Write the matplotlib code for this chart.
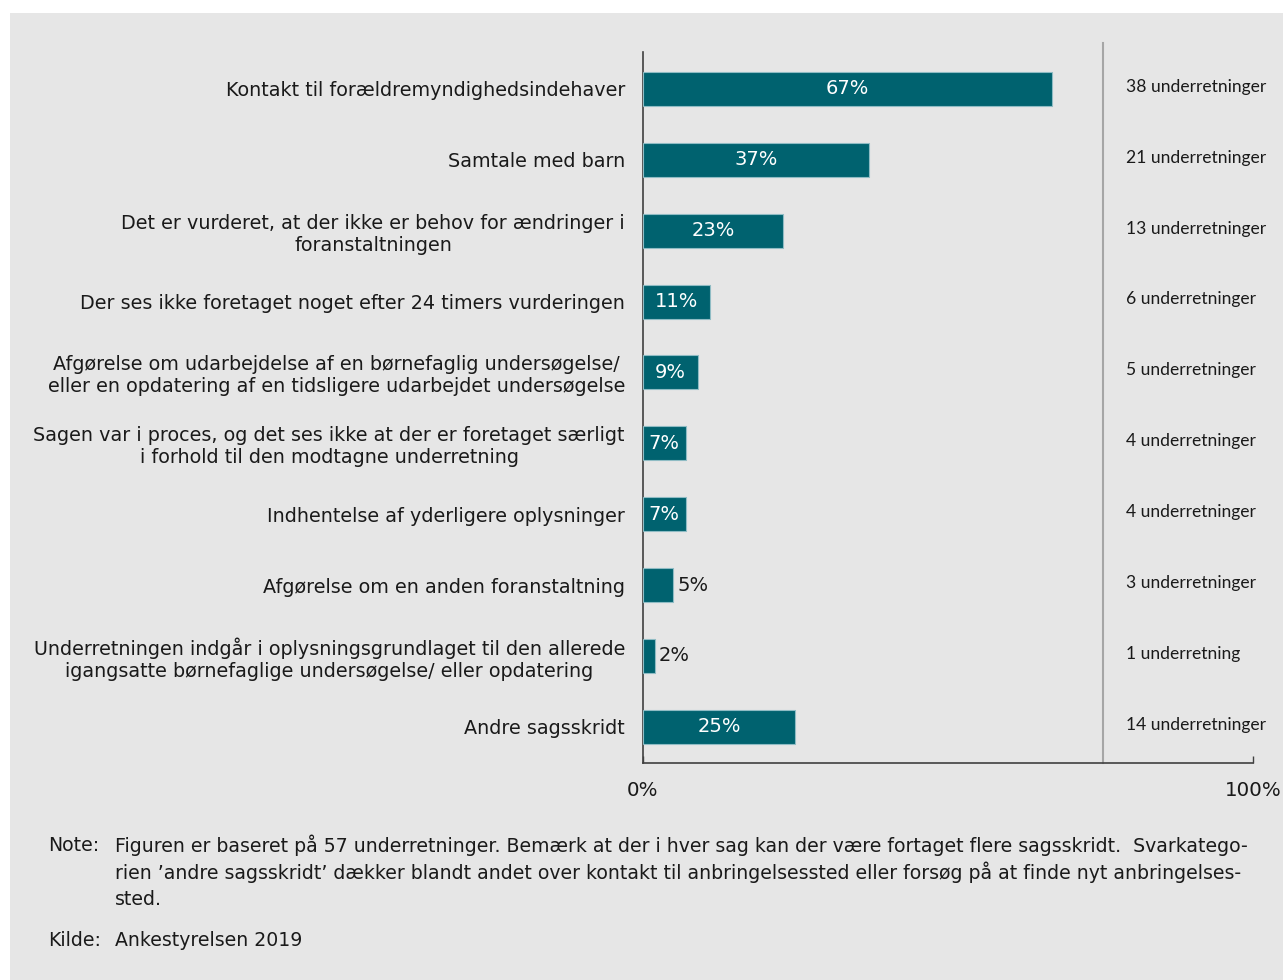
import matplotlib
matplotlib.use("Agg")
import matplotlib.pyplot as plt

categories = [
    "Kontakt til forældremyndighedsindehaver",
    "Samtale med barn",
    "Det er vurderet, at der ikke er behov for ændringer i\nforanstaltningen",
    "Der ses ikke foretaget noget efter 24 timers vurderingen",
    "Afgørelse om udarbejdelse af en børnefaglig undersøgelse/\neller en opdatering af en tidsligere udarbejdet undersøgelse",
    "Sagen var i proces, og det ses ikke at der er foretaget særligt\ni forhold til den modtagne underretning",
    "Indhentelse af yderligere oplysninger",
    "Afgørelse om en anden foranstaltning",
    "Underretningen indgår i oplysningsgrundlaget til den allerede\nigangsatte børnefaglige undersøgelse/ eller opdatering",
    "Andre sagsskridt",
]
percent = [67, 37, 23, 11, 9, 7, 7, 5, 2, 25]
count_labels = [
    "38 underretninger", "21 underretninger", "13 underretninger",
    "6 underretninger", "5 underretninger", "4 underretninger",
    "4 underretninger", "3 underretninger", "1 underretning",
    "14 underretninger",
]
xtick_values = [0, 100]
xtick_labels = ["0%", "100%"]
note_lines = [
    "Figuren er baseret på 57 underretninger. Bemærk at der i hver sag kan der være fortaget flere sagsskridt.  Svarkatego-",
    "rien ’andre sagsskridt’ dækker blandt andet over kontakt til anbringelsessted eller forsøg på at finde nyt anbringelses-",
    "sted.",
]
source_text = "Ankestyrelsen 2019"

BG = "#e6e6e6"
BAR = "#00626f"
TXT = "#1a1a1a"

W, H = 1283, 980
fig = plt.figure(figsize=(W / 100, H / 100), dpi=100, facecolor="white")
# grey panel
panel = plt.Rectangle((10 / W, 0), 1 - 10 / W, 1 - 13 / H,
                      transform=fig.transFigure, facecolor=BG,
                      edgecolor="none", zorder=-10)
fig.add_artist(panel)

left, right, top, bottom = 643, 1253, 52, 763
ax = fig.add_axes([left / W, 1 - bottom / H, (right - left) / W, (bottom - top) / H])
ax.set_zorder(5)
ax.set_facecolor("none")

y = list(range(len(categories)))
ax.barh(y, percent, height=0.48, color=BAR, edgecolor="#8fbcc4",
        linewidth=0.8, zorder=3)
ax.set_xlim(0, 100)
ax.set_ylim(len(categories) - 0.49, -0.52)

ax.set_yticks(y, labels=categories)
ax.tick_params(axis="y", length=0, pad=13, labelsize=13.8, labelcolor=TXT)
for lbl in ax.get_yticklabels():
    lbl.set_multialignment("center")
    lbl.set_linespacing(1.2)

ax.set_xticks(xtick_values, labels=xtick_labels)
ax.tick_params(axis="x", direction="in", length=5, width=1, color="#404040",
               pad=13, labelsize=14.3, labelcolor=TXT)

for s in ["top", "right"]:
    ax.spines[s].set_visible(False)
for s in ["left", "bottom"]:
    ax.spines[s].set_color("#404040")
    ax.spines[s].set_linewidth(1.2)

# separator line
ax.axvline(75.4, ymin=0, ymax=1 + 9 / (bottom - top), color="#a6a6a6",
           linewidth=1.5, clip_on=False, zorder=1)

for i, (v, c) in enumerate(zip(percent, count_labels)):
    if v >= 7:
        ax.text(v / 2, i, f"{v}%", ha="center", va="center", color="white",
                fontsize=14, zorder=4)
    else:
        ax.text(v + 0.6, i, f"{v}%", ha="left", va="center", color=TXT,
                fontsize=14, zorder=4)
    ax.text(79.2, i - 0.03, c, ha="left", va="center", color=TXT, fontsize=12.6,
            family="Lato")

# note
fy = [845, 872, 899]
fs = 13.6
fig.text(48 / W, 1 - fy[0] / H, "Note:", ha="left", va="center", fontsize=fs, color=TXT)
for yy, line in zip(fy, note_lines):
    fig.text(115 / W, 1 - yy / H, line, ha="left", va="center", fontsize=fs, color=TXT)
fig.text(48 / W, 1 - 940 / H, "Kilde:", ha="left", va="center", fontsize=fs, color=TXT)
fig.text(115 / W, 1 - 940 / H, source_text, ha="left", va="center", fontsize=fs, color=TXT)

fig.savefig("out.png", dpi=100, facecolor="white")
